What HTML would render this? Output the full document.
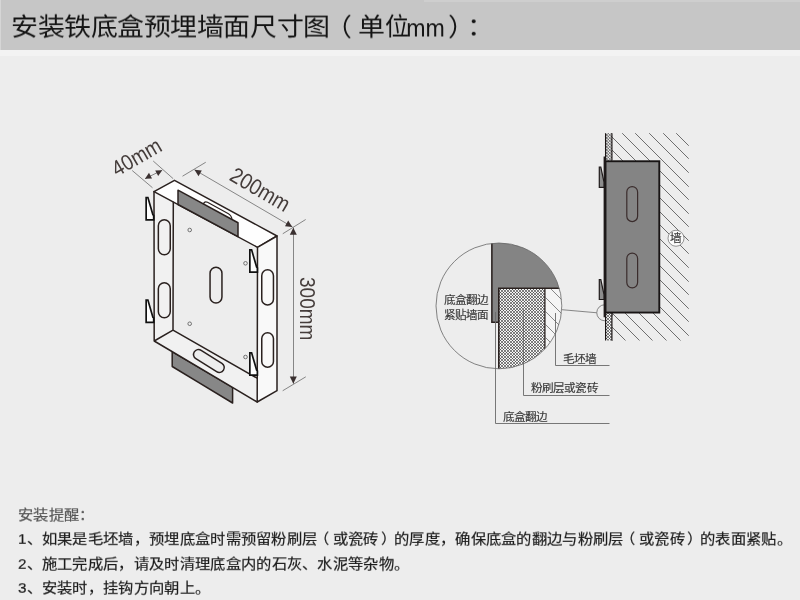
<!DOCTYPE html>
<html lang="zh-CN">
<head>
<meta charset="utf-8">
<title>安装铁底盒预埋墙面尺寸图</title>
<style>
html,body{margin:0;padding:0;}
body{width:800px;height:600px;overflow:hidden;background:#ededed;font-family:"Liberation Sans",sans-serif;position:relative;}
.bar{position:absolute;left:0;top:0;width:800px;height:50px;background:#c6c6c6;}
.band{position:absolute;left:0;top:50px;width:800px;height:6px;background:#f3f3f3;}
.title{position:absolute;left:11px;top:8.8px;font-size:26.4px;line-height:36px;color:#141414;white-space:nowrap;transform:scale(1.0213,0.95);transform-origin:0 50%;will-change:transform;}
.title span{position:relative;}
.title .mm{display:inline-block;width:34px;height:10px;vertical-align:baseline;}
.title .mm i{position:absolute;left:0;bottom:-5.2px;font-style:normal;font-size:25.6px;line-height:1;transform:scaleX(0.885);transform-origin:0 100%;}
.note{will-change:transform;position:absolute;left:17.7px;white-space:nowrap;font-size:15px;line-height:20px;color:#1c1c1c;-webkit-text-stroke:0.2px #1c1c1c;transform:scale(1.0207,0.95);transform-origin:0 50%;}
.note span{position:relative;}.note .pl{left:-3.5px;}.note .pr{left:2.5px;}
.note.h{color:#555;-webkit-text-stroke:0.2px #555;left:17.5px;}
svg{position:absolute;left:0;top:0;will-change:transform;}
svg text{font-family:"Liberation Sans",sans-serif;}
.lab{font-size:11.25px;fill:#383838;stroke:#383838;stroke-width:0.15px;}
.dim{font-size:22px;fill:#453d3b;}
</style>
</head>
<body>
<div class="bar"></div>
<div class="band"></div>
<div style="position:absolute;left:424px;top:0;width:376px;height:1.5px;background:#cecece;"></div>
<div style="position:absolute;left:0;top:0;width:1px;height:50px;background:#d6d6d6;"></div>
<div class="title">安装铁底盒预埋墙面尺寸图<span style="left:-4.7px">（</span><span style="left:1.7px">单<span style="display:inline-block;transform:scaleX(0.89);transform-origin:0 50%;">位</span></span><span class="mm" style="left:-3px"><i>mm</i></span><span style="left:4.2px">）</span><span style="left:9.3px">：</span></div>

<svg width="800" height="600" viewBox="0 0 800 600">
<defs>
<pattern id="xh" width="2.75" height="2.75" patternUnits="userSpaceOnUse" x="499.4" y="288.6">
<rect width="2.75" height="2.75" fill="#bdbdbd"/>
<circle cx="0" cy="0" r="0.75" fill="#3a3a3a"/><circle cx="2.75" cy="0" r="0.75" fill="#3a3a3a"/><circle cx="0" cy="2.75" r="0.75" fill="#3a3a3a"/><circle cx="2.75" cy="2.75" r="0.75" fill="#3a3a3a"/>
<circle cx="1.375" cy="1.375" r="0.8" fill="#f2f2f2"/>
</pattern>
<clipPath id="cc"><circle cx="498.9" cy="305.9" r="62.9"/></clipPath>
</defs>

<!-- ===== left: iso box ===== -->
<g fill="none" stroke="#2a211f" stroke-width="1.5" stroke-linejoin="round" stroke-linecap="round">
<!-- lower flap -->
<polygon points="172.2,351.7 172.2,366.5 232.6,403 232.6,387.3" fill="#878787"/>
<!-- handle behind top flap -->
<!-- strip fills -->
<polygon points="154,191.6 173.3,202.2 173,330.2 154.2,341" fill="#f1f1f1" stroke="none"/>
<polygon points="154.2,341 173,330.2 257.2,378.2 257.2,402" fill="#f1f1f1" stroke="none"/>
<!-- top face -->
<polygon points="154,191.6 174.5,180.3 277,236 257.5,247.3" fill="#fefefe"/>
<!-- right strip -->
<polygon points="257.5,247.3 277,236 277,390.7 257.2,402" fill="#f9f9f9"/>
<!-- left strip etc -->
<path d="M154,191.6L154.2,341L257.2,402M173.3,202.2L173,330.2M154.2,341L173,330.2L257.2,378.2"/>
<!-- handle -->
<path d="M203.5,204Q204.3,201 207.5,202.3L228,213.5Q231.6,215.4 232,219.5" fill="#fefefe" stroke-width="1.2"/>
<!-- top flap -->
<polygon points="178,204.5 178,190.2 238,222.75 238,236.7" fill="#878787"/>
</g>
<!-- slots -->
<rect x="158.35" y="219.75" width="11.90" height="34.90" rx="5.95" fill="none" stroke="#2a211f" stroke-width="1.5"/>
<rect x="158.35" y="282.75" width="11.90" height="35.00" rx="5.95" fill="none" stroke="#2a211f" stroke-width="1.5"/>
<rect x="210.05" y="267.25" width="11.90" height="35.70" rx="5.95" fill="none" stroke="#2a211f" stroke-width="1.5"/>
<rect x="261.75" y="269.85" width="11.70" height="35.15" rx="5.85" fill="none" stroke="#2a211f" stroke-width="1.5"/>
<rect x="261.75" y="332.75" width="11.70" height="34.50" rx="5.85" fill="none" stroke="#2a211f" stroke-width="1.5"/>
<!-- bottom slot rotated -->
<g stroke-linecap="round">
<line x1="198.5" y1="354.5" x2="219.25" y2="367.5" stroke="#2a211f" stroke-width="11.5"/>
<line x1="198.5" y1="354.5" x2="219.25" y2="367.5" stroke="#ededed" stroke-width="8.5"/>
</g>
<!-- hooks -->
<g fill="#fefefe" stroke="#111" stroke-width="1.7" stroke-linejoin="miter">
<polygon points="146.15,197.50 147.90,197.50 152.90,214.70 153.70,215.50 153.70,219.80 146.15,219.80"/>
<polygon points="146.15,300.00 147.90,300.00 152.90,317.20 153.70,318.00 153.70,322.30 146.15,322.30"/>
<polygon points="249.85,249.80 251.60,249.80 256.60,267.00 257.40,267.80 257.40,272.10 249.85,272.10"/>
<polygon points="249.85,352.80 251.60,352.80 256.60,370.00 257.40,370.80 257.40,375.10 249.85,375.10"/>
</g>
<!-- holes -->
<g fill="none" stroke="#555" stroke-width="0.8">
<circle cx="189.7" cy="230" r="1.8"/><circle cx="245.5" cy="263.3" r="1.8"/>
<circle cx="189.7" cy="323.75" r="1.8"/><circle cx="245.5" cy="357" r="1.8"/>
</g>
<!-- dimensions -->
<g fill="none" stroke="#6b6b6b" stroke-width="0.8">
<path d="M132.2,170.5L152.5,187.75M153.2,161L173.2,178.7M145,178.7L162.2,170.2"/>
<path d="M182.5,176.2L205.75,162.25M194.5,169.75L292.5,227M282.75,233.75L305.7,219.5"/>
<path d="M293.5,227.5L293.5,383.7M282.7,390.75L305.8,376.8"/>
</g>
<g fill="#3a3030" stroke="none">
<!-- arrowheads -->
<polygon points="145,178.7 152,178.6 149,172.8"/>
<polygon points="162.2,170.2 155.2,170.4 158.2,176.1"/>
<polygon points="194.5,169.75 201.8,170.6 198.5,176.2"/>
<polygon points="292.3,227 285,226.2 288.2,220.5"/>
<polygon points="293.3,227.8 289.8,234.8 296.8,234.8"/>
<polygon points="293.3,383.7 289.8,376.5 296.8,376.5"/>
</g>
<text class="dim" transform="translate(117,177) rotate(-30) scale(0.88,1)">40mm</text>
<text class="dim" transform="translate(228.3,179.5) rotate(30.3) scale(0.89,1)">200mm</text>
<text class="dim" transform="translate(300.3,277) rotate(90) scale(0.865,1)">300mm</text>

<!-- ===== right: section ===== -->
<path d="M611.8,339.8L612.5,340.5M611.8,326.8L625.5,340.5M611.8,312.8L639.5,340.5M611.8,299.8L652.5,340.5M611.8,285.8L666.5,340.5M611.8,271.8L680.5,340.5M611.8,258.8L688.75,335.75M611.8,244.8L688.75,321.75M611.8,231.8L688.75,308.75M611.8,217.8L688.75,294.75M611.8,204.8L688.75,281.75M611.8,190.8L688.75,267.75M611.8,176.8L688.75,253.75M611.8,163.8L688.75,240.75M611.8,149.8L688.75,226.75M611.8,136.8L688.75,213.75M622.2,133.2L688.75,199.75M635.2,133.2L688.75,186.75M649.2,133.2L688.75,172.75M663.2,133.2L688.75,158.75M676.2,133.2L688.75,145.75" stroke="#606060" stroke-width="0.9" fill="none"/>
<circle cx="604.75" cy="312.75" r="8" fill="none" stroke="#6b6b6b" stroke-width="0.8"/>
<rect x="605.5" y="133.2" width="6.30" height="27.50" fill="#f4f4f4"/><path d="M605.50,136.20L608.50,133.20M605.50,139.20L611.50,133.20M605.50,142.20L611.80,135.90M605.50,145.20L611.80,138.90M605.50,148.20L611.80,141.90M605.50,151.20L611.80,144.90M605.50,154.20L611.80,147.90M605.50,157.20L611.80,150.90M605.50,160.20L611.80,153.90M608.00,160.70L611.80,156.90M611.00,160.70L611.80,159.90" stroke="#3a3a3a" stroke-width="0.62" fill="none"/><path d="M605.50,157.70L608.50,160.70M605.50,154.70L611.50,160.70M605.50,151.70L611.80,158.00M605.50,148.70L611.80,155.00M605.50,145.70L611.80,152.00M605.50,142.70L611.80,149.00M605.50,139.70L611.80,146.00M605.50,136.70L611.80,143.00M605.50,133.70L611.80,140.00M608.00,133.20L611.80,137.00M611.00,133.20L611.80,134.00" stroke="#333" stroke-width="0.62" fill="none"/>
<rect x="605.5" y="312.5" width="6.30" height="28.00" fill="#f4f4f4"/><path d="M605.50,315.50L608.50,312.50M605.50,318.50L611.50,312.50M605.50,321.50L611.80,315.20M605.50,324.50L611.80,318.20M605.50,327.50L611.80,321.20M605.50,330.50L611.80,324.20M605.50,333.50L611.80,327.20M605.50,336.50L611.80,330.20M605.50,339.50L611.80,333.20M607.50,340.50L611.80,336.20M610.50,340.50L611.80,339.20" stroke="#3a3a3a" stroke-width="0.62" fill="none"/><path d="M605.50,337.50L608.50,340.50M605.50,334.50L611.50,340.50M605.50,331.50L611.80,337.80M605.50,328.50L611.80,334.80M605.50,325.50L611.80,331.80M605.50,322.50L611.80,328.80M605.50,319.50L611.80,325.80M605.50,316.50L611.80,322.80M605.50,313.50L611.80,319.80M607.50,312.50L611.80,316.80M610.50,312.50L611.80,313.80" stroke="#333" stroke-width="0.62" fill="none"/>
<path d="M605.6,133.2V160.5M611.9,133.2V160.5M605.6,312.5V340.5M611.9,312.5V340.5" stroke="#1a1515" stroke-width="1.2" fill="none"/>
<rect x="605.5" y="161.25" width="53.8" height="151.3" fill="#848484" stroke="#181414" stroke-width="1.9"/>
<line x1="604.7" y1="156.5" x2="604.7" y2="317.25" stroke="#1f1a1a" stroke-width="2.2"/>
<rect x="626.80" y="186.60" width="10.80" height="35.00" rx="5.40" fill="none" stroke="#3a2c2c" stroke-width="1.2"/>
<rect x="626.80" y="253.10" width="10.80" height="34.80" rx="5.40" fill="none" stroke="#3a2c2c" stroke-width="1.2"/>
<g fill="#8c8c8c" stroke="#1f1a1a" stroke-width="1.2">
<polygon points="599.3,167 600.8,167 604,182 604,187.3 599.3,187.3"/>
<polygon points="599.3,279.5 600.8,279.5 604,294.5 604,299.5 599.3,299.5"/>
</g>
<circle cx="676" cy="238.25" r="8" fill="#fcfcfc" stroke="#666" stroke-width="0.7"/>
<text class="lab" transform="translate(670.4,242.3) scale(1.032,1)">墙</text>
<path d="M561.8,309.7L596.7,312.75" stroke="#6b6b6b" stroke-width="0.8" fill="none"/>

<!-- ===== big detail circle ===== -->
<g clip-path="url(#cc)">
<rect x="545.5" y="288" width="30" height="90" fill="#f5f5f5"/>
<path d="M545.5,365.5L552,372M545.5,351.5L566,372M545.5,337.5L575,367M545.5,324.5L575,354M545.5,311.5L575,341M545.5,297.5L575,327M550,288L575,313M563,288L575,300" stroke="#6b6b6b" stroke-width="0.8" fill="none"/>
<rect x="499" y="288" width="46.00" height="84.00" fill="#f4f4f4"/><path d="M499.00,291.00L502.00,288.00M499.00,294.00L505.00,288.00M499.00,297.00L508.00,288.00M499.00,300.00L511.00,288.00M499.00,303.00L514.00,288.00M499.00,306.00L517.00,288.00M499.00,309.00L520.00,288.00M499.00,312.00L523.00,288.00M499.00,315.00L526.00,288.00M499.00,318.00L529.00,288.00M499.00,321.00L532.00,288.00M499.00,324.00L535.00,288.00M499.00,327.00L538.00,288.00M499.00,330.00L541.00,288.00M499.00,333.00L544.00,288.00M499.00,336.00L545.00,290.00M499.00,339.00L545.00,293.00M499.00,342.00L545.00,296.00M499.00,345.00L545.00,299.00M499.00,348.00L545.00,302.00M499.00,351.00L545.00,305.00M499.00,354.00L545.00,308.00M499.00,357.00L545.00,311.00M499.00,360.00L545.00,314.00M499.00,363.00L545.00,317.00M499.00,366.00L545.00,320.00M499.00,369.00L545.00,323.00M499.00,372.00L545.00,326.00M502.00,372.00L545.00,329.00M505.00,372.00L545.00,332.00M508.00,372.00L545.00,335.00M511.00,372.00L545.00,338.00M514.00,372.00L545.00,341.00M517.00,372.00L545.00,344.00M520.00,372.00L545.00,347.00M523.00,372.00L545.00,350.00M526.00,372.00L545.00,353.00M529.00,372.00L545.00,356.00M532.00,372.00L545.00,359.00M535.00,372.00L545.00,362.00M538.00,372.00L545.00,365.00M541.00,372.00L545.00,368.00M544.00,372.00L545.00,371.00" stroke="#3a3a3a" stroke-width="0.62" fill="none"/><path d="M499.00,369.00L502.00,372.00M499.00,366.00L505.00,372.00M499.00,363.00L508.00,372.00M499.00,360.00L511.00,372.00M499.00,357.00L514.00,372.00M499.00,354.00L517.00,372.00M499.00,351.00L520.00,372.00M499.00,348.00L523.00,372.00M499.00,345.00L526.00,372.00M499.00,342.00L529.00,372.00M499.00,339.00L532.00,372.00M499.00,336.00L535.00,372.00M499.00,333.00L538.00,372.00M499.00,330.00L541.00,372.00M499.00,327.00L544.00,372.00M499.00,324.00L545.00,370.00M499.00,321.00L545.00,367.00M499.00,318.00L545.00,364.00M499.00,315.00L545.00,361.00M499.00,312.00L545.00,358.00M499.00,309.00L545.00,355.00M499.00,306.00L545.00,352.00M499.00,303.00L545.00,349.00M499.00,300.00L545.00,346.00M499.00,297.00L545.00,343.00M499.00,294.00L545.00,340.00M499.00,291.00L545.00,337.00M499.00,288.00L545.00,334.00M502.00,288.00L545.00,331.00M505.00,288.00L545.00,328.00M508.00,288.00L545.00,325.00M511.00,288.00L545.00,322.00M514.00,288.00L545.00,319.00M517.00,288.00L545.00,316.00M520.00,288.00L545.00,313.00M523.00,288.00L545.00,310.00M526.00,288.00L545.00,307.00M529.00,288.00L545.00,304.00M532.00,288.00L545.00,301.00M535.00,288.00L545.00,298.00M538.00,288.00L545.00,295.00M541.00,288.00L545.00,292.00M544.00,288.00L545.00,289.00" stroke="#333" stroke-width="0.62" fill="none"/>
<rect x="491.2" y="236" width="90" height="52.25" fill="#848484"/>
<rect x="491.2" y="288" width="7.8" height="34.8" fill="#848484"/>
<path d="M491.9,236V322.3H498.7" stroke="#2a211f" stroke-width="1.5" fill="none"/>
<path d="M498.8,378V288.25H580" stroke="#2a211f" stroke-width="1.6" fill="none"/>
<path d="M544.9,288V378" stroke="#2a211f" stroke-width="1.3" fill="none"/>
</g>
<circle cx="498.9" cy="305.9" r="62.9" fill="none" stroke="#666" stroke-width="0.8"/>
<path d="M495.5,312V423.5H609.5M523.5,310V395.5H609.5M555.5,313V365.5H609.5" stroke="#6a6a6a" stroke-width="0.9" fill="none"/>
<text class="lab" transform="translate(443.6,303.5) scale(1.032,1)">底盒翻边</text>
<text class="lab" transform="translate(443.6,319.2) scale(1.032,1)">紧贴墙面</text>
<text class="lab" transform="translate(563,363) scale(1.032,1)">毛坯墙</text>
<text class="lab" transform="translate(530.75,392) scale(1.032,1)">粉刷层或瓷砖</text>
<text class="lab" transform="translate(502.5,421) scale(1.032,1)">底盒翻边</text>
</svg>

<div class="note h" style="top:504.5px;">安装提醒：</div>
<div class="note" style="top:529px;">1、如果是毛坯墙，预埋底盒时需预留粉刷层<span class="pl">（</span>或瓷砖<span class="pr">）</span>的厚度，确保底盒的翻边与粉刷层<span class="pl">（</span>或瓷砖<span class="pr">）</span>的表面紧贴。</div>
<div class="note" style="top:554px;">2、施工完成后，请及时清理底盒内的石灰、水泥等杂物。</div>
<div class="note" style="top:578px;">3、安装时，挂钩方向朝上。</div>
</body>
</html>
